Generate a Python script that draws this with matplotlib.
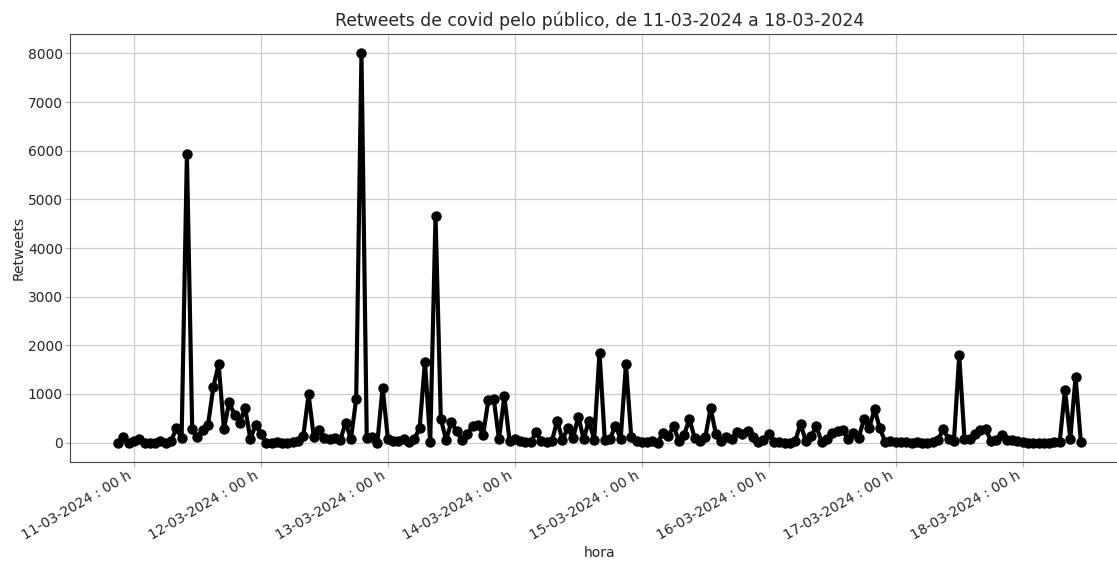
import numpy as np
import pandas as pd
import matplotlib
matplotlib.use('Agg')
import matplotlib.pyplot as plt
import matplotlib.dates as mdates

# dados: retweets por hora, comecando em 10-03-2024 21h
inicio = '2024-03-10 21:00'
retweets = [
    0, 120, 0, 40, 70, 0, 0, 0, 40, 0, 30, 290, 100, 5930, 280, 110, 260, 370,
    1140, 1610, 280, 830, 570, 400, 715, 70, 370, 180, 0, 0, 10, 0, 0, 20, 40,
    130, 990, 110, 250, 100, 80, 90, 50, 410, 70, 890, 8000, 100, 120, 0, 1130,
    70, 40, 40, 75, 10, 70, 300, 1660, 10, 4660, 490, 55, 420, 230, 50, 170,
    350, 370, 160, 880, 900, 70, 950, 40, 75, 40, 10, 10, 210, 40, 20, 30, 450,
    55, 300, 90, 535, 70, 450, 55, 1850, 55, 75, 350, 75, 1610, 110, 40, 10,
    20, 30, 0, 200, 140, 330, 40, 160, 480, 90, 30, 110, 710, 180, 30, 110, 70,
    210, 170, 240, 120, 20, 60, 170, 20, 10, 0, 0, 30, 390, 30, 130, 330, 10,
    70, 190, 240, 250, 70, 200, 100, 480, 300, 690, 290, 20, 40, 20, 20, 20, 0,
    20, 0, 0, 20, 60, 270, 70, 30, 1790, 70, 70, 180, 250, 270, 40, 60, 150,
    60, 50, 30, 10, 0, 0, 0, 0, 0, 10, 20, 1080, 80, 1350, 10,
]
horas = pd.date_range(inicio, periods=len(retweets), freq='h')

titulo = 'Retweets de covid pelo público, de 11-03-2024 a 18-03-2024'
cor_texto = '#262626'

fig = plt.figure(figsize=(11.17, 5.61), dpi=100)
# eixo passa da borda direita, como na imagem original (cortada)
ax = fig.add_axes([70 / 1117, 99 / 561, 1059 / 1117, 428 / 561])

ax.plot(horas, retweets, color='black', linewidth=3, marker='o', markersize=6.5)

ax.grid(True, color='#cccccc', linewidth=0.9)
ax.set_axisbelow(True)
for lado in ['left', 'bottom', 'top', 'right']:
    ax.spines[lado].set_color('#444444')

ax.xaxis.set_major_locator(mdates.DayLocator())
ax.xaxis.set_major_formatter(mdates.DateFormatter('%d-%m-%Y : %H h'))
ax.tick_params(axis='both', labelsize=10, labelcolor=cor_texto, color='#b8b8b8',
               length=3.5, width=0.9, pad=1.5)
plt.setp(ax.get_xticklabels(), rotation=30, ha='right')

ax.set_title(titulo, fontsize=12.4, color=cor_texto)
ax.set_xlabel('hora', fontsize=10, color=cor_texto, labelpad=2)
ax.set_ylabel('Retweets', fontsize=10, color=cor_texto, labelpad=2)

fig.savefig('out.png', dpi=100)
